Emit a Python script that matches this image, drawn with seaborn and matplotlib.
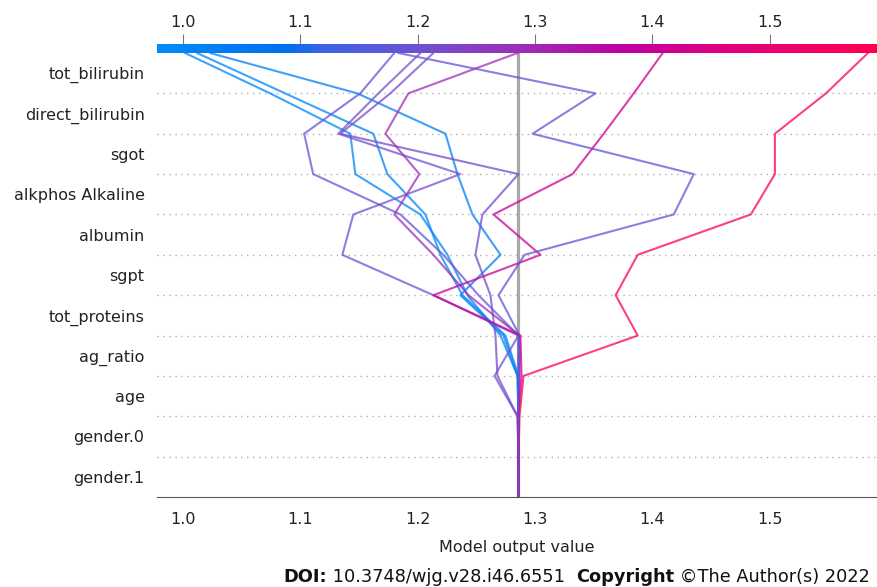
import numpy as np
import pandas as pd
import matplotlib
matplotlib.use("Agg")
import matplotlib.pyplot as plt
import seaborn as sns
from matplotlib.colors import LinearSegmentedColormap, Normalize

# feature order from bottom (base value) to top (prediction)
features = ["gender.1", "gender.0", "age", "ag_ratio", "tot_proteins", "sgpt",
            "albumin", "alkphos Alkaline", "sgot", "direct_bilirubin", "tot_bilirubin"]
base_value = 1.2858

# model output after each feature is added (level 0 = base, level 11 = prediction)
obs_a = [1.2858, 1.2858, 1.2858, 1.2850, 1.2705, 1.2423, 1.2253, 1.2022, 1.1468, 1.1425, 1.0742, 1.0017]
obs_b = [1.2858, 1.2858, 1.2858, 1.2858, 1.2747, 1.2381, 1.2193, 1.2065, 1.1741, 1.1621, 1.0870, 1.0119]
obs_c = [1.2858, 1.2858, 1.2858, 1.2850, 1.2730, 1.2363, 1.2705, 1.2466, 1.2338, 1.2236, 1.1485, 1.0230]
obs_d = [1.2858, 1.2858, 1.2858, 1.2858, 1.2858, 1.2517, 1.2218, 1.1852, 1.1109, 1.1032, 1.1510, 1.1800]
obs_e = [1.2858, 1.2858, 1.2850, 1.2654, 1.2858, 1.2133, 1.1357, 1.1451, 1.2363, 1.1323, 1.1664, 1.2022]
obs_f = [1.2858, 1.2858, 1.2850, 1.2679, 1.2662, 1.2619, 1.2491, 1.2551, 1.2858, 1.1340, 1.1766, 1.2133]
obs_g = [1.2858, 1.2858, 1.2858, 1.2867, 1.2867, 1.2432, 1.2133, 1.1800, 1.2014, 1.1724, 1.1920, 1.2850]
obs_h = [1.2858, 1.2858, 1.2858, 1.2884, 1.2875, 1.2133, 1.3046, 1.2645, 1.3319, 1.3584, 1.3840, 1.4087]
obs_i = [1.2858, 1.2858, 1.2867, 1.2901, 1.3874, 1.3686, 1.3874, 1.4838, 1.5043, 1.5043, 1.5478, 1.5836]
obs_j = [1.2858, 1.2858, 1.2858, 1.2858, 1.2867, 1.2688, 1.2910, 1.4181, 1.4352, 1.2978, 1.3515, 1.1834]

paths = {"a": obs_a, "b": obs_b, "c": obs_c, "d": obs_d, "e": obs_e,
         "f": obs_f, "g": obs_g, "h": obs_h, "i": obs_i, "j": obs_j}

xlim = (0.9778, 1.5913)
xticks = [1.0, 1.1, 1.2, 1.3, 1.4, 1.5]

# shap-like red/blue colormap
cmap = LinearSegmentedColormap.from_list("shap_rb", [
    (0.00, "#008bfb"), (0.18, "#0070ee"), (0.23, "#3d63e4"), (0.36, "#6d52d3"),
    (0.50, "#9c2fb8"), (0.65, "#bf00a0"), (0.80, "#e2007c"), (1.00, "#ff0052")])
norm = Normalize(*xlim)

rows = []
for name, vals in paths.items():
    for lvl, v in enumerate(vals):
        rows.append({"obs": name, "level": lvl, "value": v})
df = pd.DataFrame(rows)
palette = {name: cmap(norm(vals[-1])) for name, vals in paths.items()}

sns.set_style("white")
plt.rcParams["font.family"] = ["DejaVu Sans"]

W, H = 877, 587
fig = plt.figure(figsize=(W / 100, H / 100), dpi=100)
ax = fig.add_axes([157 / W, 1 - 497 / H, 720 / W, 444 / H])

for i in range(1, len(features)):
    ax.axhline(i, color="#b0b0b0", lw=1, dashes=(1, 3.3), zorder=0)
ax.axvline(base_value, color="#999999", lw=2.3, alpha=0.85, zorder=1)

sns.lineplot(data=df, x="value", y="level", hue="obs", palette=palette, sort=False,
             estimator=None, legend=False, lw=1.5, alpha=0.75, ax=ax, zorder=2)

ax.set_xlim(*xlim)
ax.set_ylim(0, len(features))
ax.set_yticks(np.arange(len(features)) + 0.5)
ax.set_yticklabels(features, fontsize=11.5, color="#222222")
ax.set_xticks(xticks)
ax.set_xticklabels([f"{t:.1f}" for t in xticks], fontsize=11.5, color="#222222")
ax.tick_params(axis="y", length=0, pad=9)
ax.tick_params(axis="x", length=5, color="#666666", pad=6)
ax.set_xlabel("Model output value", fontsize=11.5, color="#222222", labelpad=9)
ax.set_ylabel("")
for s in ["left", "right", "top"]:
    ax.spines[s].set_visible(False)
ax.spines["bottom"].set_color("#555555")

# colour bar along the top
cax = fig.add_axes([157 / W, 1 - 53 / H, 720 / W, 9 / H])
grad = np.linspace(xlim[0], xlim[1], 512).reshape(1, -1)
cax.imshow(grad, aspect="auto", cmap=cmap, norm=norm, extent=[xlim[0], xlim[1], 0, 1])
cax.set_xlim(*xlim)
cax.set_yticks([])
cax.xaxis.tick_top()
cax.set_xticks(xticks)
cax.set_xticklabels([f"{t:.1f}" for t in xticks], fontsize=11.5, color="#222222")
cax.tick_params(axis="x", length=7, color="#777777", pad=3)
for s in cax.spines.values():
    s.set_visible(False)

# source line
renderer = fig.canvas.get_renderer()
x = 283 / W
for txt, weight in [("DOI:", "bold"), (" 10.3748/wjg.v28.i46.6551  ", "normal"),
                    ("Copyright", "bold"), (" ©The Author(s) 2022", "normal")]:
    t = fig.text(x, 1 - 577 / H, txt, fontsize=12.8, fontweight=weight, color="#111111",
                 ha="left", va="center")
    x = t.get_window_extent(renderer).x1 / W

fig.savefig("out.png", dpi=100)
